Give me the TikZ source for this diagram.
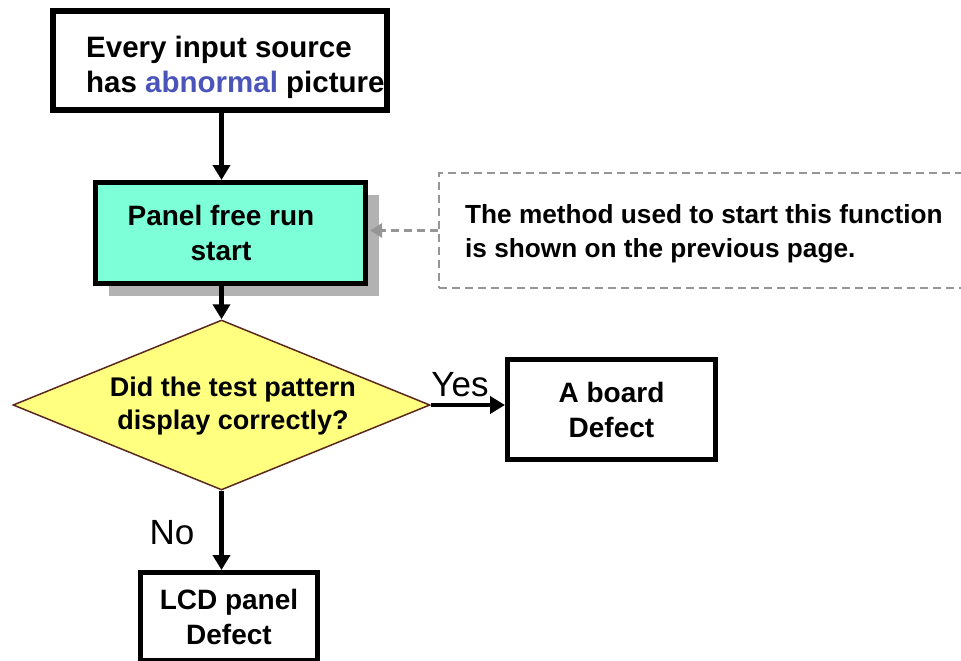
\documentclass[tikz,border=0pt]{standalone}
\usepackage{fontspec}
\setmainfont{Liberation Sans}
\usetikzlibrary{shapes.geometric,arrows.meta,shadows}
\definecolor{mint}{RGB}{125,255,215}
\definecolor{pale}{RGB}{255,255,128}
\definecolor{linkblue}{RGB}{75,85,185}
\definecolor{dashgray}{RGB}{150,150,150}
\definecolor{shadowgray}{RGB}{178,178,178}
\definecolor{brownline}{RGB}{90,40,30}
\begin{document}
\begin{tikzpicture}[x=1pt,y=-1pt,
  box/.style={draw=black, fill=white, line width=5pt, inner sep=0pt, align=center,
    font=\fontsize{28}{35}\selectfont\bfseries},
  arr/.style={line width=5pt, draw=black, -{Triangle[length=15pt,width=17pt]}},
  lbl/.style={inner sep=0pt, font=\fontsize{35}{35}\selectfont},
  txt/.style={inner sep=0pt, align=center, font=\fontsize{27}{33}\selectfont\bfseries}]
\useasboundingbox (0,0) rectangle (961,661);
\clip (0,0) rectangle (961,661);

% top box
\node[box, line width=6pt, minimum width=334pt, minimum height=99pt] (top) at (220,60.5) {};
\node[txt, anchor=west, align=left, font=\fontsize{29.5}{35}\selectfont\bfseries] (toptext) at (86,67)
  {Every input source\\has \textcolor{linkblue}{abnormal} picture};

% teal box with shadow
\node[box, fill=mint, minimum width=270pt, minimum height=101pt,
  general shadow={fill=shadowgray, shadow xshift=13pt, shadow yshift=-12pt}] (teal) at (230.5,233) {};
\node[txt, font=\fontsize{28}{35}\selectfont\bfseries] (tealtext) at (221,233) {Panel free run\\start};

% decision diamond
\node[diamond, draw=brownline, line width=1.5pt, fill=pale, inner sep=0pt,
  minimum width=417pt, minimum height=170pt] (dia) at (221.5,405) {};
\node[txt] (q) at (233,406) {Did the test pattern\\display correctly?};

% result boxes
\node[box, minimum width=208pt, minimum height=100pt] (board) at (611.5,409.5) {A board\\Defect};
\node[box, minimum width=177pt, minimum height=88pt] (lcd) at (229,616.5) {LCD panel\\Defect};

% note box
\node[draw=dashgray, line width=2.5pt, dash pattern=on 8pt off 5pt, inner sep=0pt,
  minimum width=536pt, minimum height=115pt] (notebox) at (707,230.5) {};
\node[txt, anchor=west, align=left, font=\fontsize{26.2}{33.5}\selectfont\bfseries] (note) at (465,234)
  {The method used to start this function\\is shown on the previous page.};

% connectors
\draw[arr] (top.south -| dia.north) -- (teal.north -| dia.north);
\draw[arr] (teal.south -| dia.north) -- (dia.north);
\draw[arr, line width=4pt] (dia.east) -- (dia.east -| board.west);
\draw[arr] (dia.south) -- (lcd.north -| dia.south);
\draw[line width=2.5pt, draw=dashgray, dash pattern=on 8pt off 5pt,
  -{Triangle[length=12pt,width=14pt,fill=dashgray]}, shorten >=2pt]
  (notebox.west) -- (notebox.west -| teal.east);

% labels
\node[lbl] (yes) at (460,385) {Yes};
\node[lbl] (no) at (172,533) {No};
\end{tikzpicture}
\end{document}
